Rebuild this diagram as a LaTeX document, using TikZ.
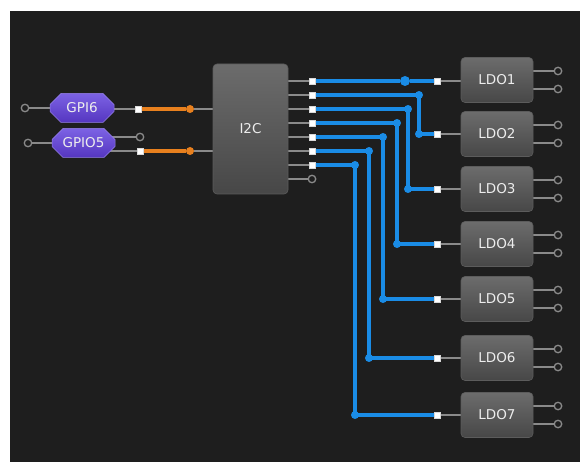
\documentclass[tikz,border=0pt]{standalone}
\usepackage{fontspec}
\setmainfont{DejaVu Sans}
\usetikzlibrary{shapes.misc,backgrounds}
\definecolor{bg}{HTML}{1E1E1E}
\definecolor{wire}{HTML}{8A8A8A}
\definecolor{blu}{HTML}{1A8CE6}
\definecolor{org}{HTML}{E8801E}
\definecolor{boxtop}{HTML}{6C6C6C}
\definecolor{boxbot}{HTML}{474747}
\definecolor{purtop}{HTML}{7C62E4}
\definecolor{purbot}{HTML}{5536C0}
\definecolor{txt}{HTML}{EDEDED}
\begin{document}
\begin{tikzpicture}[x=1pt,y=-1pt,
  blk/.style={rectangle, rounded corners=4pt, top color=boxtop, bottom color=boxbot,
    draw=boxtop!85!black, line width=0.6pt, text=txt, font=\fontsize{13.5}{15}\selectfont, inner sep=0pt},
  ldo/.style={blk, minimum width=72pt, minimum height=45pt},
  gpi/.style={chamfered rectangle, chamfered rectangle xsep=3pt, chamfered rectangle ysep=8pt,
    top color=purtop, bottom color=purbot, draw=purtop!80!white, line width=0.5pt, text=txt,
    font=\fontsize{13.5}{15}\selectfont, minimum width=64pt, minimum height=29pt, inner sep=0pt},
  pinw/.style={rectangle, fill=white, draw=white!70!gray, line width=0.5pt, minimum size=6pt, inner sep=0pt},
  pino/.style={circle, draw=wire, line width=1.3pt, fill=bg, minimum size=7.5pt, inner sep=0pt},
  dotb/.style={circle, fill=blu, minimum size=8pt, inner sep=0pt},
  doto/.style={circle, fill=org, minimum size=8pt, inner sep=0pt},
  gw/.style={draw=wire, line width=1.3pt},
  bw/.style={draw=blu, line width=3.4pt},
  ow/.style={draw=org, line width=3.2pt}]
\useasboundingbox (0,0) rectangle (580,462);

% --- GPIO blocks
\node[gpi] (g6) at (82,108) {GPI6};
\node[gpi, minimum width=63pt] (g5) at (83.5,143) {GPIO5};
\node[pino] (g6in) at (25,108) {};
\node[pino] (g5in) at (28,143) {};
\node[pinw] (g6o) at (138,109) {};
\node[pino] (g5a) at (140,137) {};
\node[pinw] (g5b) at (140,151) {};
\node[doto] (j6) at (190,109) {};
\node[doto] (j5) at (190,151) {};

% --- I2C block
\node[blk, minimum width=75pt, minimum height=130pt] (i2c) at (250.5,129) {I2C};
\foreach \i/\y in {1/81,2/95,3/109,4/123,5/137,6/151,7/165}
  \node[pinw] (o\i) at (312,\y) {};
\node[pino] (o8) at (312,179) {};

% --- LDO blocks
\foreach \i/\y/\p in {1/80/81,2/134/134,3/189/189,4/244/244,5/299/299,6/358/358,7/415/415}{
  \node[ldo] (l\i) at (497,\y) {LDO\i};
  \node[pinw] (p\i) at (437,\p) {};
  \node[pino] (a\i) at (558,\y-9) {};
  \node[pino] (b\i) at (558,\y+9) {};
}

% --- blue junctions
\node[dotb, minimum size=10pt] (d1) at (405,81) {};
\foreach \i/\x in {2/419,3/408,4/397,5/383,6/369,7/355}{
  \node[dotb] (v\i) at (\x,0 |- o\i) {};
  \node[dotb] (w\i) at (v\i |- p\i) {};
}

\begin{scope}[on background layer]
  \fill[white] (0,0) rectangle (580,462);
  \fill[bg] (10,11) rectangle (580,462);
  % gray wires
  \draw[gw] (g6in) -- (g6.west);
  \draw[gw] (g5in) -- (g5.west);
  \draw[gw] (g6.center |- g6o) -- (g6o);
  \draw[gw] (g5.center |- g5a) -- (g5a);
  \draw[gw] (g5.center |- g5b) -- (g5b);
  \draw[gw] (j6) -- (i2c.west |- j6);
  \draw[gw] (j5) -- (i2c.west |- j5);
  \foreach \i in {1,...,8} \draw[gw] (i2c.east |- o\i) -- (o\i);
  \foreach \i in {1,...,7}{
    \draw[gw] (p\i) -- (l\i.west |- p\i);
    \draw[gw] (l\i.east |- a\i) -- (a\i);
    \draw[gw] (l\i.east |- b\i) -- (b\i);
  }
  % orange wires
  \draw[ow] (g6o) -- (j6);
  \draw[ow] (g5b) -- (j5);
  % blue wires
  \draw[bw] (o1) -- (d1) -- (p1);
  \foreach \i in {2,...,7}
    \draw[bw] (o\i) -- (v\i.center) -- (w\i.center) -- (p\i);
\end{scope}
\end{tikzpicture}
\end{document}
